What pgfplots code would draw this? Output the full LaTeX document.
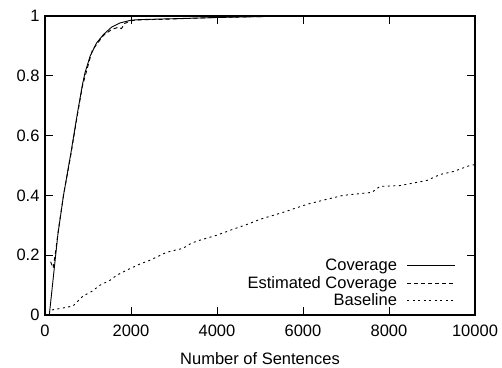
\documentclass[border=0pt]{standalone}
\usepackage{fontspec}
\setmainfont{Liberation Sans}
\usepackage{pgfplots}
\pgfplotsset{compat=1.18}
\begin{document}
\begin{tikzpicture}
\path (-45bp,-51bp) rectangle (457bp,315bp);
\begin{axis}[
  at={(0,0)}, anchor=south west,
  scale only axis, width=430bp, height=299bp,
  xmin=0, xmax=10000, ymin=0, ymax=1,
  xtick={0,2000,4000,6000,8000,10000},
  ytick={0,0.2,0.4,0.6,0.8,1},
  scaled x ticks=false,
  xticklabel style={/pgf/number format/1000 sep={}, yshift=-6bp},
  yticklabel style={/pgf/number format/fixed, /pgf/number format/precision=1, xshift=-2bp},
  /pgf/number format/assume math mode=true,
  tick align=inside, major tick length=8bp,
  axis line style={line width=1.3bp},
  tick style={line width=1bp, black},
  font=\fontsize{16.5bp}{19bp}\selectfont,
  xlabel={Number of Sentences},
  xlabel style={yshift=-9bp},
  legend style={draw=none, fill=none, at={(axis description cs:0.963,0.012)}, anchor=south east,
    font=\fontsize{16.5bp}{19bp}\selectfont, row sep=0bp,
    /tikz/every odd column/.append style={column sep=8bp}},
  legend plot pos=right,
  legend cell align=right,
  legend image code/.code={\draw[#1] (0bp,0bp) -- (48bp,0bp);},
]
\addplot[black, line width=0.9bp] coordinates {
(100,0) (300,0.27) (430,0.40) (600,0.54) (760,0.68) (870,0.77) (930,0.81) (1050,0.866)
(1200,0.91) (1360,0.938) (1550,0.963) (1750,0.977) (2000,0.986) (2200,0.988) (3000,0.991)
(4000,0.995) (5000,0.998) (6000,1.0) (10000,1.0)
};
\addlegendentry{Coverage}
\addplot[black, line width=0.9bp, dash pattern=on 4bp off 3bp] coordinates {
(130,0.178) (190,0.157) (250,0.215) (310,0.283) (430,0.40) (600,0.535) (760,0.675) (870,0.765)
(1050,0.86) (1100,0.885) (1200,0.905) (1360,0.935) (1550,0.955) (1700,0.962) (1780,0.958)
(1850,0.975) (2000,0.984) (2200,0.987) (3000,0.99) (4000,0.995) (5000,0.998) (6000,1.0) (10000,1.0)
};
\addlegendentry{Estimated Coverage}
\addplot[black, line width=0.9bp, dash pattern=on 2bp off 3.5bp] coordinates {
(163,0.017) (400,0.023) (650,0.03) (880,0.063) (1100,0.08) (1280,0.1) (1500,0.115) (1670,0.133)
(1900,0.15) (2200,0.17) (2440,0.183) (2830,0.21) (3210,0.223) (3400,0.24) (3600,0.25) (4000,0.267)
(4300,0.283) (4700,0.303) (5000,0.32) (5530,0.343) (6090,0.37) (6500,0.385) (6930,0.4) (7600,0.41)
(7790,0.43) (8260,0.433) (8880,0.45) (9190,0.47) (9500,0.48) (9880,0.5) (10000,0.503)
};
\addlegendentry{Baseline}
\end{axis}
\end{tikzpicture}
\end{document}
